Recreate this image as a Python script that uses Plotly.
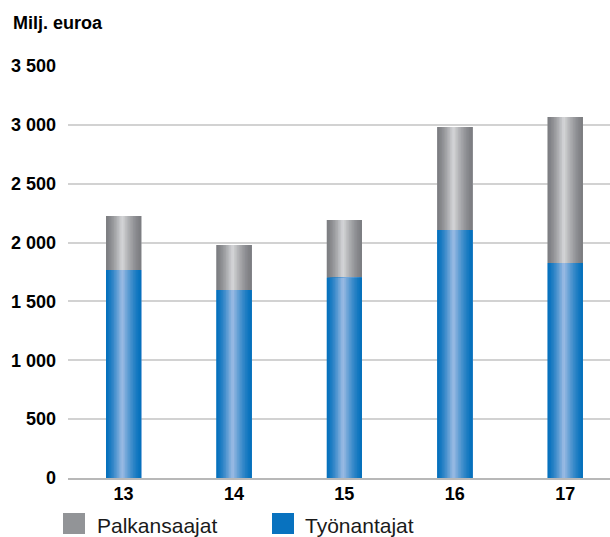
import plotly.graph_objects as go

categories = ["13", "14", "15", "16", "17"]
tyonantajat = [1767, 1597, 1702, 2107, 1827]
palkansaajat = [459, 382, 490, 875, 1240]
ytick_vals = [0, 500, 1000, 1500, 2000, 2500, 3000, 3500]
ytick_text = ["0", "500", "1 000", "1 500", "2 000", "2 500", "3 000", "3 500"]
legend_names = ["Palkansaajat", "Työnantajat"]

BAR_W = 0.317
N = 22

W, H = 610, 537
ML, MR, MT, MB = 68, 0, 66, 59
PW, PH = W - ML - MR, H - MT - MB


def px_x(px):
    return (px - ML) / PW


def px_y(py):
    return (H - MB - py) / PH


def mix(c1, c2, t):
    return "rgb({},{},{})".format(*[round(a + (b - a) * t) for a, b in zip(c1, c2)])


def profile(u, peak=0.46):
    if u <= peak:
        v = u / peak
    else:
        v = (1 - u) / (1 - peak)
    v = max(0.0, min(1.0, v))
    return v ** 1.4


blue_edge, blue_mid = (4, 112, 188), (158, 188, 228)
grey_edge, grey_mid = (124, 125, 129), (214, 215, 217)
grey_solid, blue_solid = "#929497", "#0872bf"

fig = go.Figure()

series = [
    (legend_names[0], palkansaajat, tyonantajat, grey_edge, grey_mid, grey_solid),
    (legend_names[1], tyonantajat, [0] * len(categories), blue_edge, blue_mid, blue_solid),
]

for name, vals, base, edge, mid, solid in series:
    fig.add_trace(go.Bar(
        x=categories, y=vals, base=base, name=name, width=BAR_W,
        marker=dict(color=solid, line=dict(width=0)), showlegend=False,
        hoverinfo="skip",
    ))
    for k in range(N):
        u = (k + 0.5) / N
        fig.add_trace(go.Bar(
            x=categories, y=vals, base=base, width=BAR_W * (N - k) / N,
            offset=-BAR_W / 2 + k * BAR_W / N,
            marker=dict(color=mix(edge, mid, profile(u)), line=dict(width=0)),
            showlegend=False, hoverinfo="skip",
        ))

shapes = []
annotations = [dict(
    text="<b>Milj. euroa</b>", xref="paper", yref="paper", x=px_x(11), y=px_y(22.7),
    xanchor="left", yanchor="middle", showarrow=False,
    font=dict(size=18, family="Liberation Sans", color="#000000"),
)]
legend_pos = [(63, 97), (272, 305)]
for (sx, tx), name, col in zip(legend_pos, legend_names, [grey_solid, blue_solid]):
    shapes.append(dict(
        type="rect", xref="paper", yref="paper",
        x0=px_x(sx), x1=px_x(sx + 22), y0=px_y(534), y1=px_y(513),
        fillcolor=col, line=dict(width=0), layer="above",
    ))
    annotations.append(dict(
        text=name, xref="paper", yref="paper", x=px_x(tx - 2), y=px_y(525),
        xanchor="left", yanchor="middle", showarrow=False,
        font=dict(size=21, family="Liberation Sans", color="#1a1a1a"),
    ))

fig.update_layout(
    width=W, height=H,
    barmode="overlay",
    plot_bgcolor="white", paper_bgcolor="white",
    margin=dict(l=ML, r=MR, t=MT, b=MB, autoexpand=False),
    font=dict(family="Liberation Sans, Arial, sans-serif", color="#000000"),
    xaxis=dict(
        range=[-0.503, 4.406], showgrid=False, showline=True, linecolor="#b8b8b8",
        linewidth=2, ticks="", tickfont=dict(size=18, family="Liberation Sans", weight="bold"),
        ticklabelstandoff=-2, fixedrange=True,
    ),
    yaxis=dict(
        range=[0, 3500], tickvals=ytick_vals, ticktext=ytick_text,
        showgrid=True, gridcolor="#d2d2d2", gridwidth=2, zeroline=False,
        tickfont=dict(size=18, family="Liberation Sans", weight="bold"),
        ticklabelstandoff=11, fixedrange=True,
    ),
    shapes=shapes,
    annotations=annotations,
    showlegend=False,
)

fig.write_html(
    "out.html",
    config={"displayModeBar": False, "staticPlot": True},
    post_script="document.body.style.margin='0';document.body.style.overflow='hidden';",
)
